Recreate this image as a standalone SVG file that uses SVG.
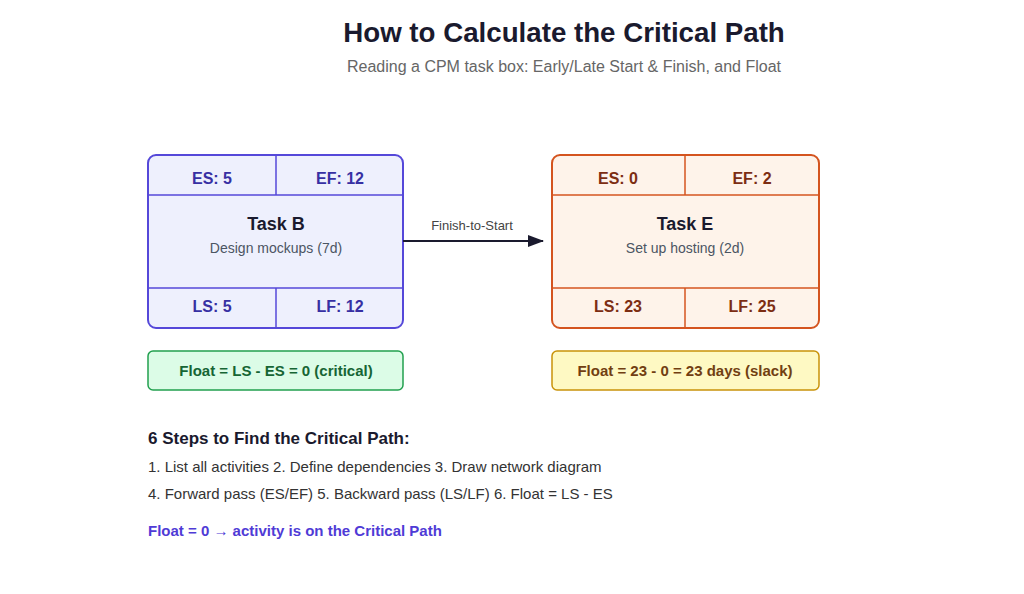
<svg xmlns="http://www.w3.org/2000/svg" width="1024" height="594" viewBox="0 0 1024 594">
<defs>
<style>
text{font-family:"Liberation Sans",Arial,sans-serif}
.title{font-size:27.7px;font-weight:bold;fill:#1a1a2e;text-anchor:middle}
.sub{font-size:16px;fill:#666;text-anchor:middle}
.cellB{font-size:16px;font-weight:bold;fill:#3730a3;text-anchor:middle}
.cellE{font-size:16px;font-weight:bold;fill:#7c2d12;text-anchor:middle}
.tname{font-size:18px;font-weight:bold;fill:#1a1a2e;text-anchor:middle}
.tdesc{font-size:14px;fill:#4b5563;text-anchor:middle}
.boxB{fill:#eef0fd;stroke:#5548d9;stroke-width:2}
.divB{stroke:#5548d9;stroke-width:1.5}
.boxE{fill:#fef3ea;stroke:#d4541f;stroke-width:2}
.divE{stroke:#d4541f;stroke-width:1.5}
.steps{font-size:15px;fill:#333}
</style>
<marker id="arr" markerWidth="16" markerHeight="14" refX="15" refY="7" orient="auto" markerUnits="userSpaceOnUse"><path d="M0,1 L16,7 L0,13 Z" fill="#1a1a2e"/></marker>
</defs>
<rect width="1024" height="594" fill="#fff"/>
<text class="title" x="564" y="42">How to Calculate the Critical Path</text>
<text class="sub" x="564" y="72">Reading a CPM task box: Early/Late Start &amp; Finish, and Float</text>

<g id="taskB">
<rect class="boxB" x="148" y="155" width="255" height="173" rx="8"/>
<line class="divB" x1="148" y1="195" x2="403" y2="195"/>
<line class="divB" x1="148" y1="288" x2="403" y2="288"/>
<line class="divB" x1="276" y1="155" x2="276" y2="195"/>
<line class="divB" x1="276" y1="288" x2="276" y2="328"/>
<text class="cellB" x="212" y="184">ES: 5</text>
<text class="cellB" x="340" y="184">EF: 12</text>
<text class="tname" x="276" y="230">Task B</text>
<text class="tdesc" x="276" y="253">Design mockups (7d)</text>
<text class="cellB" x="212" y="312">LS: 5</text>
<text class="cellB" x="340" y="312">LF: 12</text>
</g>

<g id="taskE">
<rect class="boxE" x="552" y="155" width="267" height="173" rx="8"/>
<line class="divE" x1="552" y1="195" x2="819" y2="195"/>
<line class="divE" x1="552" y1="288" x2="819" y2="288"/>
<line class="divE" x1="685" y1="155" x2="685" y2="195"/>
<line class="divE" x1="685" y1="288" x2="685" y2="328"/>
<text class="cellE" x="618" y="184">ES: 0</text>
<text class="cellE" x="752" y="184">EF: 2</text>
<text class="tname" x="685" y="230">Task E</text>
<text class="tdesc" x="685" y="253">Set up hosting (2d)</text>
<text class="cellE" x="618" y="312">LS: 23</text>
<text class="cellE" x="752" y="312">LF: 25</text>
</g>

<g id="connectors">
<line x1="403" y1="241" x2="543" y2="241" stroke="#1a1a2e" stroke-width="2" marker-end="url(#arr)"/>
<text x="472" y="230" font-size="13" fill="#444" text-anchor="middle">Finish-to-Start</text>
</g>

<g id="floatB">
<rect x="148" y="351" width="255" height="39" rx="5" fill="#dcfce7" stroke="#22a04f" stroke-width="1.5"/>
<text x="276" y="376" font-size="15" font-weight="bold" fill="#166534" text-anchor="middle">Float = LS - ES = 0 (critical)</text>
</g>
<g id="floatE">
<rect x="552" y="351" width="267" height="39" rx="5" fill="#fef9c3" stroke="#c9930a" stroke-width="1.5"/>
<text x="685" y="376" font-size="15" font-weight="bold" fill="#713f12" text-anchor="middle">Float = 23 - 0 = 23 days (slack)</text>
</g>

<g id="steps">
<text x="148" y="444" font-size="17" font-weight="bold" fill="#1a1a2e">6 Steps to Find the Critical Path:</text>
<text class="steps" x="148" y="472">1. List all activities 2. Define dependencies 3. Draw network diagram</text>
<text class="steps" x="148" y="499">4. Forward pass (ES/EF) 5. Backward pass (LS/LF) 6. Float = LS - ES</text>
<text x="148" y="536" font-size="15" font-weight="bold" fill="#4f3bd6">Float = 0 → activity is on the Critical Path</text>
</g>
</svg>
